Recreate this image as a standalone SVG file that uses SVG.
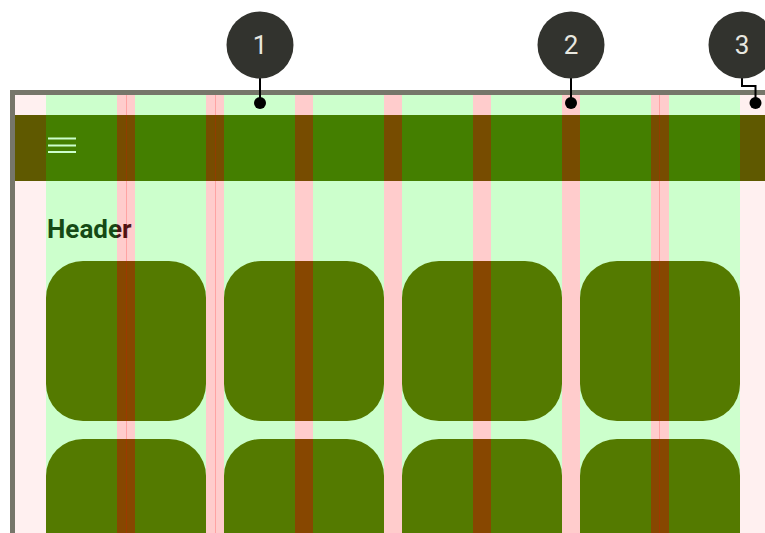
<svg xmlns="http://www.w3.org/2000/svg" width="765" height="533" viewBox="0 0 765 533">
  <style>
    .col { fill: #00ff00; fill-opacity: 0.2; }
    .gut { fill: #ff0000; fill-opacity: 0.2; }
    .mar { fill: #ff0000; fill-opacity: 0.06; }
    .card { fill: #6a5900; }
    .callout circle.bubble { fill: #32332e; }
    .num { font-family: Roboto, "Liberation Sans", sans-serif; font-size: 26px; fill: #e8e8e0; text-anchor: middle; }
    .lead { fill: none; stroke: #000000; stroke-width: 2; }
    .dot { fill: #000000; }
  </style>
  <defs>
    <clipPath id="screen">
      <rect x="15" y="95" width="750" height="438"/>
    </clipPath>
  </defs>
  <rect x="0" y="0" width="765" height="533" fill="#ffffff"/>

  <g clip-path="url(#screen)">
    <g id="app-bar">
      <rect x="15" y="115" width="750" height="66" fill="#565f00"/>
      <g fill="#ffffff">
        <rect x="48" y="137.5" width="28" height="2"/>
        <rect x="48" y="144.5" width="28" height="2"/>
        <rect x="48" y="151" width="28" height="2"/>
      </g>
    </g>
    <g id="header">
      <text x="47" y="237.5" font-family="Roboto, 'Liberation Sans', sans-serif" font-weight="bold" font-size="26" fill="#1c1c1c">Header</text>
    </g>
    <g id="cards">
      <rect class="card" x="46" y="261" width="160" height="160" rx="37"/>
      <rect class="card" x="224" y="261" width="160" height="160" rx="37"/>
      <rect class="card" x="402" y="261" width="160" height="160" rx="37"/>
      <rect class="card" x="580" y="261" width="160" height="160" rx="37"/>
      <rect class="card" x="46" y="439" width="160" height="160" rx="37"/>
      <rect class="card" x="224" y="439" width="160" height="160" rx="37"/>
      <rect class="card" x="402" y="439" width="160" height="160" rx="37"/>
      <rect class="card" x="580" y="439" width="160" height="160" rx="37"/>
    </g>
    <g id="grid-overlay">
      <rect class="mar" x="15" y="95" width="31" height="438"/>
      <rect class="mar" x="740" y="95" width="31" height="438"/>
      <rect class="col" x="46" y="95" width="71" height="438"/>
      <rect class="col" x="135" y="95" width="71" height="438"/>
      <rect class="col" x="224" y="95" width="71" height="438"/>
      <rect class="col" x="313" y="95" width="71" height="438"/>
      <rect class="col" x="402" y="95" width="71" height="438"/>
      <rect class="col" x="491" y="95" width="71" height="438"/>
      <rect class="col" x="580" y="95" width="71" height="438"/>
      <rect class="col" x="669" y="95" width="71" height="438"/>
      <rect class="gut" x="117" y="95" width="18" height="438"/>
      <rect class="gut" x="206" y="95" width="18" height="438"/>
      <rect class="gut" x="295" y="95" width="18" height="438"/>
      <rect class="gut" x="384" y="95" width="18" height="438"/>
      <rect class="gut" x="473" y="95" width="18" height="438"/>
      <rect class="gut" x="562" y="95" width="18" height="438"/>
      <rect class="gut" x="651" y="95" width="18" height="438"/>
      <rect class="gut" x="126" y="95" width="1" height="438"/>
      <rect class="gut" x="215" y="95" width="1" height="438"/>
      <rect class="gut" x="659" y="95" width="1" height="438"/>
    </g>
  </g>

  <g id="frame">
    <path d="M12.5 533 V92.5 H770" fill="none" stroke="#76766a" stroke-width="5"/>
  </g>

  <g id="connectors">
    <path class="lead" d="M260 78 V103"/>
    <circle class="dot" cx="260" cy="103" r="6"/>
    <path class="lead" d="M571 78 V103"/>
    <circle class="dot" cx="571" cy="103" r="6"/>
    <path class="lead" d="M742 78 V86 H755.5 V103"/>
    <circle class="dot" cx="755.5" cy="103" r="6"/>
  </g>

  <g id="callout-1" class="callout">
    <circle class="bubble" cx="260" cy="45" r="33.5"/>
    <text class="num" x="260" y="54">1</text>
  </g>
  <g id="callout-2" class="callout">
    <circle class="bubble" cx="571" cy="45" r="33.5"/>
    <text class="num" x="571" y="54">2</text>
  </g>
  <g id="callout-3" class="callout">
    <circle class="bubble" cx="742" cy="45" r="33.5"/>
    <text class="num" x="742" y="54">3</text>
  </g>
</svg>
